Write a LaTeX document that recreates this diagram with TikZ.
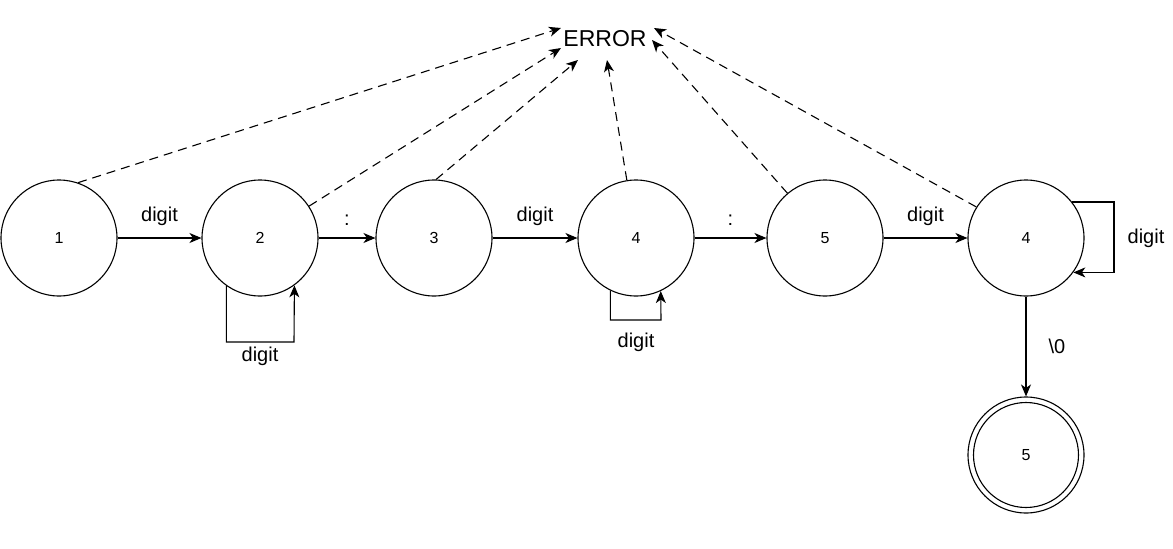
\documentclass[tikz,border=0pt]{standalone}
\usepackage{fontspec}
\setmainfont{Liberation Sans}
\usetikzlibrary{arrows.meta}
\begin{document}
\begin{tikzpicture}[x=1pt,y=-1pt,
  state/.style={draw,circle,minimum size=116pt,inner sep=0pt,line width=1.1pt,font=\fontsize{16}{16}\selectfont},
  arr/.style={line width=1.1pt,-{Stealth[length=12pt,width=10pt,inset=3.5pt]}},
  darr/.style={arr,dash pattern=on 9pt off 6pt},
  lbl/.style={font=\fontsize{20}{20}\selectfont,inner sep=0pt}]
\useasboundingbox (0,0) rectangle (1173,549);
\node[state] (c1) at (59,238) {1};
\node[state] (c2) at (260,238) {2};
\node[state] (c3) at (434,238) {3};
\node[state] (c4) at (636,238) {4};
\node[state] (c5) at (825,238) {5};
\node[state] (c6) at (1026,238) {4};
\node[state] (c7) at (1026,455) {5};
\draw[line width=1.1pt] (c7.center) circle[radius=52.5pt];
\node[font=\fontsize{23}{23}\selectfont,inner sep=0pt] (err) at (605,39) {ERROR};
% error targets
\coordinate (e1) at (561,28);
\coordinate (e2) at (561,48);
\coordinate (e3) at (578,60);
\coordinate (e4) at (607,60);
\coordinate (e5) at (652,40);
\coordinate (e6) at (654,28);
% main transitions
\draw[arr] (c1) -- node[lbl,above=12pt] {digit} (c2);
\draw[arr] (c2) -- node[lbl,above=12pt] {:} (c3);
\draw[arr] (c3) -- node[lbl,above=12pt] {digit} (c4);
\draw[arr] (c4) -- node[lbl,above=12pt] {:} (c5);
\draw[arr] (c5) -- node[lbl,above=12pt] {digit} (c6);
\draw[arr] (c6) -- node[lbl,right=22pt] {\textbackslash 0} (c7);
% self loops
\coordinate (l2) at (294,342);
\coordinate (l4) at (661,320);
\coordinate (l6) at (1114,238);
\draw[arr] (c2.235.5) |- (l2) -- (c2.306);
\node[lbl] (d2) at (260,356) {digit};
\draw[arr] (c4.244.4) |- (l4) -- (c4.295.6);
\node[lbl] (d4) at (636,342) {digit};
\draw[arr] (c6.38.4) -| (l6) |- (c6.324);
\node[lbl] (d6) at (1146,238) {digit};
% error transitions
\draw[darr] (c1.71.6) -- (e1);
\draw[darr] (c2.33.4) -- (e2);
\draw[darr] (c3.88) -- (e3);
\draw[darr] (c4.99.8) -- (e4);
\draw[darr] (c5.130) -- (e5);
\draw[darr] (c6.148.5) -- (e6);
\end{tikzpicture}
\end{document}
